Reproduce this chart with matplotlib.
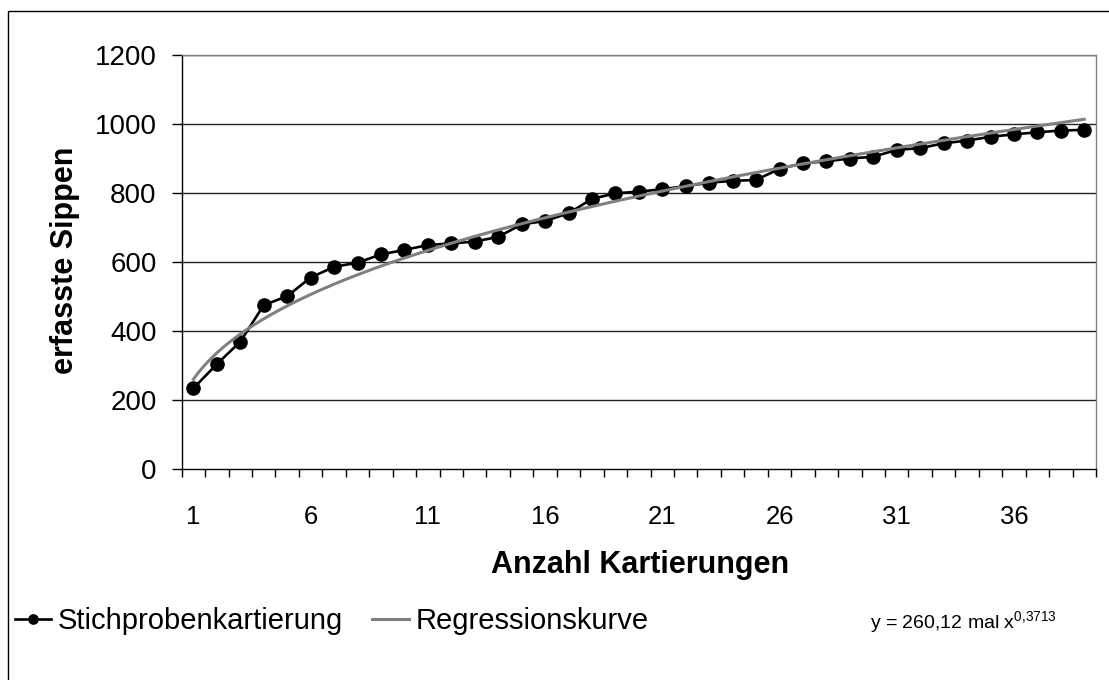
import numpy as np
import matplotlib
matplotlib.use("Agg")
import matplotlib.pyplot as plt
from matplotlib.patches import Rectangle

plt.rcParams['font.family'] = ['Liberation Sans', 'DejaVu Sans']
plt.rcParams['mathtext.default'] = 'regular'

#===========
# DATA
#===========
kartierungen = list(range(1, 40))
sippen = [234, 304, 369, 475, 501, 555, 586, 598, 622, 635,
          649, 654, 659, 673, 709, 719, 741, 783, 799, 804,
          811, 820, 830, 835, 838, 870, 886, 892, 900, 905,
          925, 930, 944, 952, 963, 970, 976, 981, 983]
# trendline coefficients as printed on the chart
reg_a = 260.12
reg_b = 0.3713
xtick_labels = ["1", "6", "11", "16", "21", "26", "31", "36"]
yticks = [0, 200, 400, 600, 800, 1000, 1200]

W, H = 1109, 680
fig = plt.figure(figsize=(W / 100, H / 100), dpi=100)
ax = fig.add_axes([181.7 / W, 1 - 469 / H, (1096 - 181.7) / W, (469 - 55) / H])

x = np.array(kartierungen)
ax.plot(x, sippen, color="black", lw=1.9, marker="o", ms=9.5,
        label="Stichprobenkartierung", zorder=3)
xs = np.linspace(x[0], x[-1], 300)
ax.plot(xs, reg_a * xs ** reg_b, color="#808080", lw=2.2,
        label="Regressionskurve", zorder=4)

ax.set_xlim(0.5, len(kartierungen) + 0.5)
ax.set_ylim(0, 1200)
ax.set_yticks(yticks)
ax.set_yticklabels([str(v) for v in yticks], fontsize=20)
for v in yticks[1:]:
    ax.axhline(v, color="#222222", lw=1, zorder=1)

ax.set_xticks([int(t) for t in xtick_labels])
ax.set_xticklabels(xtick_labels, fontsize=18.5)
ax.set_xticks(np.arange(0.5, len(kartierungen) + 1, 1), minor=True)
ax.tick_params(axis="x", which="major", length=0, pad=26)
ax.tick_params(axis="x", which="minor", length=6, width=1, direction="out")
ax.tick_params(axis="y", length=7, width=1, direction="out", pad=11)

for s in ["top", "right"]:
    ax.spines[s].set_color("#808080")
    ax.spines[s].set_linewidth(1)
for s in ["left", "bottom"]:
    ax.spines[s].set_color("black")
    ax.spines[s].set_linewidth(1)

fig.text(640 / W, 1 - 565 / H, "Anzahl Kartierungen", fontsize=22,
         fontweight="bold", ha="center", va="center")
fig.text(65 / W, 1 - 260 / H, "erfasste Sippen", fontsize=22,
         fontweight="bold", ha="center", va="center", rotation=90)

fig.legend(loc="center left", bbox_to_anchor=(15 / W, 1 - 621 / H), ncol=2,
           frameon=False, fontsize=21, handlelength=1.25, handletextpad=0.22,
           columnspacing=1.0, borderaxespad=0, borderpad=0, markerscale=0.7)

fig.text(870 / W, 1 - 622 / H, "y = 260,12 mal x$^{0{,}3713}$", fontsize=14,
         ha="left", va="center")

fig.patches.append(Rectangle((8 / W, -0.05), 1.2, 1 - 11 / H + 0.05,
                             transform=fig.transFigure, fill=False,
                             edgecolor="black", lw=1))

plt.savefig("out.png", dpi=100)
